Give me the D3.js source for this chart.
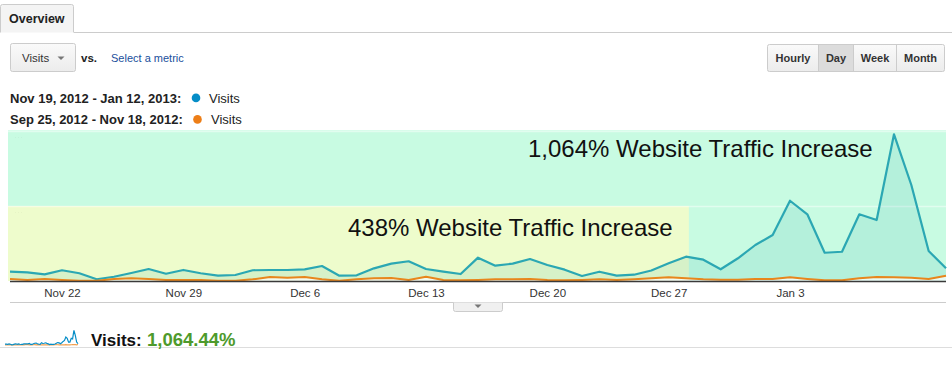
<!DOCTYPE html>
<html><head><meta charset="utf-8">
<script src="https://cdnjs.cloudflare.com/ajax/libs/d3/7.8.5/d3.min.js"></script>
<style>
html,body{margin:0;padding:0;background:#fff;}
svg{display:block;font-family:"Liberation Sans",Arial,Helvetica,sans-serif;}
</style></head><body>
<svg id="c" width="952" height="369"></svg>
<script>
// ---- data ----
const startDate = new Date(2012, 10, 19); // Nov 19, 2012
const currentVisits = [12.4,11.6,8.9,14.3,10.3,2.3,5.7,10.7,16,9.7,14.7,10.3,7.1,8,14.3,14.7,14.7,15.6,20,7.1,
  7.6,16.9,23.1,26.3,16,12.4,9.3,31.1,20.4,23.1,29.3,21.3,15.1,6.7,12.4,7.1,8.4,14,23.6,32.4,
  28.4,15.6,30.3,48,61.3,107,88.9,37.7,39,88.9,81.3,195.6,128,40,16.9];
const previousVisits = [2.7,1.3,2.7,1.3,0.4,0.4,2.7,3.6,2.7,1.3,1.3,1.3,0.4,0.4,2.2,5.3,4.4,5.3,2.2,0.4,
  2.2,3.6,4,1.3,5.8,1.3,0.9,1.3,2.2,2.2,2.7,1.3,0.9,1.3,2.2,1.3,2.2,3.6,4.9,3.6,
  2.2,1.8,1.8,2.7,2.7,4.9,2.7,0.9,0.9,3.6,5.3,4.9,4.4,2.7,7.1];
const tickLabels = ["Nov 22","Nov 29","Dec 6","Dec 13","Dec 20","Dec 27","Jan 3"];
const tickDates = [new Date(2012,10,22),new Date(2012,10,29),new Date(2012,11,6),new Date(2012,11,13),
  new Date(2012,11,20),new Date(2012,11,27),new Date(2013,0,3)];
const legendRanges = ["Nov 19, 2012 - Jan 12, 2013:","Sep 25, 2012 - Nov 18, 2012:"];
const legendMetric = "Visits";
const annotations = ["1,064% Website Traffic Increase","438% Website Traffic Increase"];
const gridValues = [100, 200];
const totalLabel = "Visits:";
const totalValue = "1,064.44%";
const periodButtons = ["Hourly","Day","Week","Month"];

const dates = currentVisits.map((_, i) => d3.timeDay.offset(startDate, i));
const rows = dates.map((d, i) => ({date: d, cur: currentVisits[i], prev: previousVisits[i]}));

const svg = d3.select("#c");

// ---- top tab ----
svg.append("line").attr("x1",74).attr("x2",952).attr("y1",32.5).attr("y2",32.5).attr("stroke","#ccc");
svg.append("path").attr("d","M0.5,32.5 V6.5 Q0.5,4.5 2.5,4.5 H71.5 Q73.5,4.5 73.5,6.5 V32.5")
  .attr("fill","#f4f4f4").attr("stroke","#ccc");
svg.append("text").attr("x",9).attr("y",23).attr("font-size",12.5).attr("font-weight","bold").attr("fill","#222").text("Overview");

// ---- metric button ----
const defs = svg.append("defs");
const g1 = defs.append("linearGradient").attr("id","btn").attr("x1",0).attr("x2",0).attr("y1",0).attr("y2",1);
g1.append("stop").attr("offset",0).attr("stop-color","#fafafa");
g1.append("stop").attr("offset",1).attr("stop-color","#ececec");
svg.append("rect").attr("x",10.5).attr("y",43.5).attr("width",65).attr("height",28).attr("rx",2)
  .attr("fill","url(#btn)").attr("stroke","#ccc");
svg.append("text").attr("x",22).attr("y",62).attr("font-size",11.5).attr("fill","#333").text("Visits");
svg.append("path").attr("d","M57.5,56.5 h7 l-3.5,3.5 z").attr("fill","#777");
svg.append("text").attr("x",81).attr("y",62).attr("font-size",11.5).attr("font-weight","bold").attr("fill","#222").text("vs.");
svg.append("text").attr("x",111).attr("y",62).attr("font-size",11).attr("fill","#1a4f9c").text("Select a metric");

// ---- period buttons ----
const bx = [767.5, 818.5, 853.5, 896.5, 944.5];
svg.append("rect").attr("x",bx[1]).attr("y",44.5).attr("width",bx[2]-bx[1]).attr("height",27).attr("fill","#dcdcdc");
periodButtons.forEach((b, i) => {
  if (i !== 1) svg.append("rect").attr("x",bx[i]).attr("y",44.5).attr("width",bx[i+1]-bx[i]).attr("height",27).attr("fill","url(#btn)");
});
svg.append("rect").attr("x",bx[0]).attr("y",44.5).attr("width",bx[4]-bx[0]).attr("height",27).attr("rx",2)
  .attr("fill","none").attr("stroke","#ccc");
[1,2,3].forEach(i => svg.append("line").attr("x1",bx[i]).attr("x2",bx[i]).attr("y1",44.5).attr("y2",71.5).attr("stroke","#ccc"));
periodButtons.forEach((b, i) => {
  svg.append("text").attr("x",(bx[i]+bx[i+1])/2).attr("y",62).attr("text-anchor","middle")
    .attr("font-size",11).attr("font-weight","bold").attr("fill","#333").text(b);
});

// ---- legend ----
const legColors = ["#058dc7","#ed7e17"];
[102.5, 124].forEach((y, i) => {
  svg.append("text").attr("x",10).attr("y",y).attr("font-size",13).attr("font-weight","bold").attr("fill","#222").text(legendRanges[i]);
  svg.append("circle").attr("cx",[196,197.5][i]).attr("cy",y-4.6).attr("r",4.3).attr("fill",legColors[i]);
  svg.append("text").attr("x",[209,211][i]).attr("y",y).attr("font-size",13).attr("fill","#222").text(legendMetric);
});

// ---- main chart ----
const x = d3.scaleTime().domain([dates[0], dates[dates.length-1]]).range([10, 946]);
const y = d3.scaleLinear().domain([0, 200]).range([281, 131]);

// highlight overlays
svg.append("rect").attr("x",8).attr("y",y(201)).attr("width",946-8).attr("height",y(0)-y(201)).attr("fill","#c8fbe2");
const yellowEnd = x(new Date(2012,11,28,4));
svg.append("rect").attr("x",8).attr("y",y(100)).attr("width",yellowEnd-8).attr("height",y(0)-y(100)).attr("fill","#eefccc");

// gridlines
gridValues.forEach(v => {
  svg.append("line").attr("x1",8).attr("x2",946).attr("y1",y(v)+0.5).attr("y2",y(v)+0.5)
    .attr("stroke","#ffffff").attr("stroke-opacity",0.45).attr("stroke-width",1.5);
  svg.append("text").attr("x",14).attr("y",y(v)+9).attr("font-size",9).attr("fill","#000").attr("fill-opacity",0.06).text("···");
});

// area + line current
const area = d3.area().x(d => x(d.date)).y0(y(0)).y1(d => y(d.cur));
svg.append("path").datum(rows).attr("d",area).attr("fill","#2aa6b0").attr("fill-opacity",0.12);
const lineCur = d3.line().x(d => x(d.date)).y(d => y(d.cur));
svg.append("path").datum(rows).attr("d",lineCur).attr("fill","none").attr("stroke","#2ba7b3").attr("stroke-width",2.2).attr("stroke-linejoin","round");

// previous
const areaPrev = d3.area().x(d => x(d.date)).y0(y(0)).y1(d => y(d.prev));
svg.append("path").datum(rows).attr("d",areaPrev).attr("fill","#fff").attr("fill-opacity",0.7);
const linePrev = d3.line().x(d => x(d.date)).y(d => y(d.prev));
svg.append("path").datum(rows).attr("d",linePrev).attr("fill","none").attr("stroke","#e8861c").attr("stroke-width",2).attr("stroke-linejoin","round");

// baseline
svg.append("line").attr("x1",10).attr("x2",946).attr("y1",y(0)+0.5).attr("y2",y(0)+0.5).attr("stroke","#3a3a3a").attr("stroke-width",1.5);

// annotations
svg.append("text").attr("x",528).attr("y",157).attr("font-size",24).attr("fill","#111").text(annotations[0]);
svg.append("text").attr("x",348).attr("y",236).attr("font-size",24).attr("fill","#111").text(annotations[1]);

// x axis
const xAxis = d3.axisBottom(x).tickValues(tickDates).tickFormat((d, i) => tickLabels[i]).tickSize(0).tickPadding(8);
const ax = svg.append("g").attr("transform",`translate(0,${y(0)})`).call(xAxis);
ax.select(".domain").remove();
ax.selectAll("text").attr("font-size",11.5).attr("fill","#333").attr("font-family","Liberation Sans,Arial,sans-serif");

svg.append("line").attr("x1",10).attr("x2",946).attr("y1",302.5).attr("y2",302.5).attr("stroke","#ccc");
svg.append("path").attr("d","M453.5,302.5 V309.5 Q453.5,311.5 455.5,311.5 H500.5 Q502.5,311.5 502.5,309.5 V302.5")
  .attr("fill","#f0f0f0").attr("stroke","#ccc");
svg.append("path").attr("d","M474.5,304.5 h7 l-3.5,3.5 z").attr("fill","#777");

// ---- bottom sparkline + total ----
const sx = d3.scaleTime().domain(x.domain()).range([5, 78]);
const sy = d3.scaleLinear().domain([0, 200]).range([345, 330]);
svg.append("line").attr("x1",0).attr("x2",952).attr("y1",347.5).attr("y2",347.5).attr("stroke","#ddd");
svg.append("path").datum(rows).attr("d",d3.line().x(d => sx(d.date)).y(d => sy(d.prev))).attr("fill","none").attr("stroke","#f0a050").attr("stroke-width",1.2);
svg.append("path").datum(rows).attr("d",d3.line().x(d => sx(d.date)).y(d => sy(d.cur))).attr("fill","none").attr("stroke","#058dc7").attr("stroke-width",1.2);
svg.append("text").attr("x",91).attr("y",345.5).attr("font-size",17).attr("font-weight","bold").attr("fill","#111").text(totalLabel);
svg.append("text").attr("x",147).attr("y",345.5).attr("font-size",18.5).attr("font-weight","bold").attr("fill","#4e9a2c").text(totalValue);
</script>
</body></html>
